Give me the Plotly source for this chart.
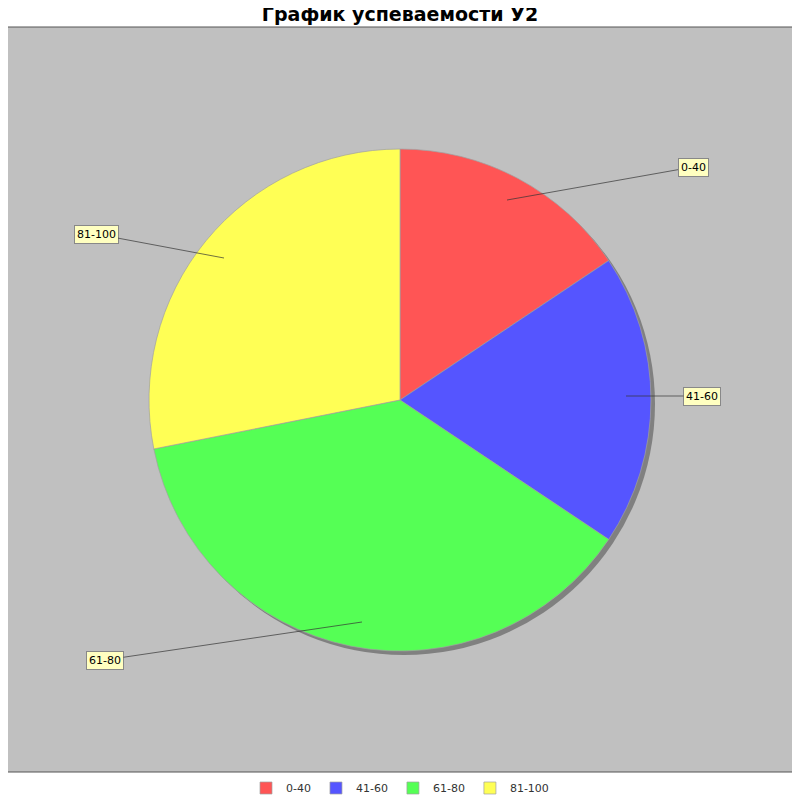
import plotly.graph_objects as go

labels = ["0-40", "41-60", "61-80", "81-100"]
values = [5, 6, 12, 9]
colors = ["#FF5555", "#5555FF", "#55FF55", "#FFFF55"]

W = 800.0
OFF = 8  # page body margin


def px(x):
    return (x - OFF) / W


def py(y):
    return 1 - (y - OFF) / W


# label boxes: (point in slice px, box px)
label_pos = [
    ((507, 200), (693, 167)),
    ((626, 396), (702, 396)),
    ((362, 622), (105, 660)),
    ((224, 258), (96, 234)),
]

fig = go.Figure()

# shadow
fig.add_trace(go.Pie(
    values=[1], marker=dict(colors=["#808080"]), textinfo="none", hoverinfo="skip",
    showlegend=False, sort=False,
    domain=dict(x=[px(153), px(655)], y=[py(655), py(153)]),
))

fig.add_trace(go.Pie(
    labels=labels, values=values, sort=False, direction="clockwise", rotation=0,
    marker=dict(colors=colors, line=dict(color="#A0A0A0", width=0.7)),
    textinfo="none",
    domain=dict(x=[px(149), px(651)], y=[py(651), py(149)]),
))

for lab, (pt, box) in zip(labels, label_pos):
    fig.add_annotation(
        x=px(pt[0]), y=py(pt[1]), xref="paper", yref="paper",
        ax=box[0] - pt[0], ay=box[1] - pt[1], axref="pixel", ayref="pixel",
        text=lab, showarrow=True, arrowhead=0, arrowwidth=0.7, arrowcolor="#333333",
        bgcolor="#FFFFC0", bordercolor="#888888", borderwidth=1, borderpad=2,
        font=dict(family="DejaVu Sans", size=11, color="black"),
    )

fig.add_shape(type="rect", xref="paper", yref="paper",
              x0=px(5), x1=px(795), y0=py(772), y1=py(27),
              fillcolor="#C0C0C0", line=dict(color="#555555", width=1), layer="below")

fig.update_layout(
    width=800, height=800, margin=dict(l=0, r=0, t=0, b=0),
    paper_bgcolor="white",
    title=dict(text="<b>График успеваемости У2</b>", x=px(400), xanchor="center",
               y=py(14), yanchor="middle",
               font=dict(family="DejaVu Sans", size=19, color="black")),
    legend=dict(orientation="h", x=px(400), xanchor="center", y=py(788), yanchor="middle",
                font=dict(family="DejaVu Sans", size=11, color="#333333"),
                itemwidth=30, traceorder="normal"),
)

fig.write_html("out.html")
